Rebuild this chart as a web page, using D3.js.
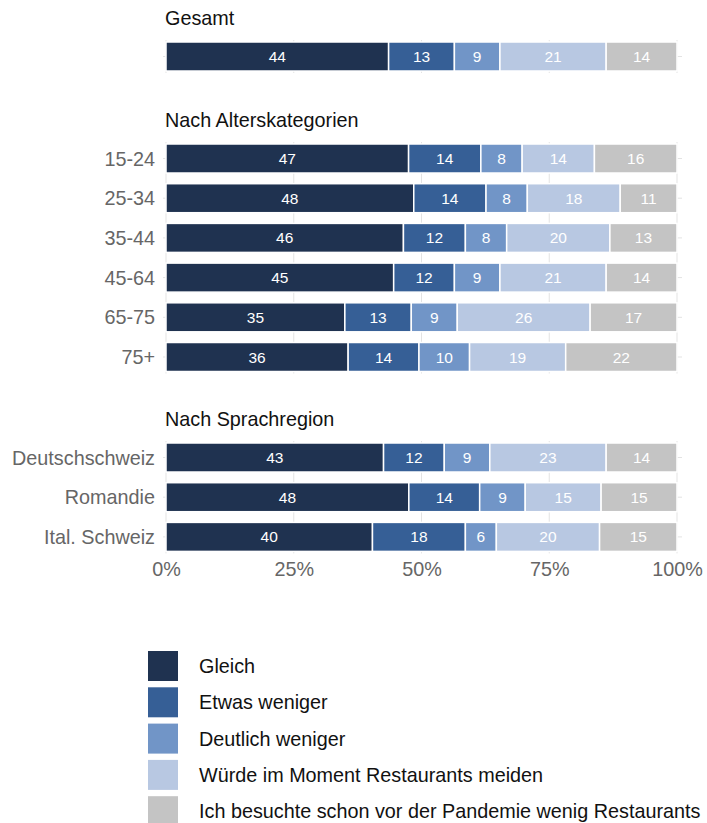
<!DOCTYPE html>
<html>
<head>
<meta charset="utf-8">
<script src="https://cdn.jsdelivr.net/npm/d3@7"></script>
<style>
  body { margin: 0; background: #fff; }
  text { font-family: "Liberation Sans", Arial, sans-serif; }
</style>
</head>
<body>
<script>
// answer categories (stack order)
var categories = ['Gleich', 'Etwas weniger', 'Deutlich weniger',
  'Würde im Moment Restaurants meiden',
  'Ich besuchte schon vor der Pandemie wenig Restaurants'];
var colors = ['#1f3250', '#365f96', '#7195c7', '#b8c8e2', '#c4c4c4'];

// rows and the panel each one belongs to
var rowLabels = ['Gesamt', '15-24', '25-34', '35-44', '45-64', '65-75', '75+',
  'Deutschschweiz', 'Romandie', 'Ital. Schweiz'];
var rowPanel = ['Gesamt', 'Nach Alterskategorien', 'Nach Alterskategorien', 'Nach Alterskategorien',
  'Nach Alterskategorien', 'Nach Alterskategorien', 'Nach Alterskategorien',
  'Nach Sprachregion', 'Nach Sprachregion', 'Nach Sprachregion'];

// percentages per category
var gleich   = [44, 47, 48, 46, 45, 35, 36, 43, 48, 40];
var etwas    = [13, 14, 14, 12, 12, 13, 14, 12, 14, 18];
var deutlich = [ 9,  8,  8,  8,  9,  9, 10,  9,  9,  6];
var meiden   = [21, 14, 18, 20, 21, 26, 19, 23, 15, 20];
var wenig    = [14, 16, 11, 13, 14, 17, 22, 14, 15, 15];

var xTicks = [0, 0.25, 0.5, 0.75, 1];

var series = [gleich, etwas, deutlich, meiden, wenig];
var rows = rowLabels.map(function(name, i) {
  var r = { name: name, panel: rowPanel[i] };
  categories.forEach(function(c, j) { r[c] = series[j][i]; });
  return r;
});

var svg = d3.select('body').append('svg')
  .attr('width', 707)
  .attr('height', 823);

var x = d3.scaleLinear().domain([0, 1]).range([166, 677]);

var stack = d3.stack().keys(categories).offset(d3.stackOffsetExpand);

// panel layout
var panels = [
  { name: 'Gesamt', top: 42, showLabels: false },
  { name: 'Nach Alterskategorien', top: 144, showLabels: true },
  { name: 'Nach Sprachregion', top: 443, showLabels: true }
];
var step = 39.7, barH = 29;
var gap = step - barH;
var bigFont = 19.8;

panels.forEach(function(p) {
  var pr = rows.filter(function(r) { return r.panel === p.name; });
  var n = pr.length;
  var y = d3.scaleBand()
    .domain(pr.map(function(r) { return r.name; }))
    .range([p.top - gap / 2, p.top - gap / 2 + n * step])
    .paddingInner(gap / step)
    .paddingOuter(gap / step / 2);
  var bottom = p.top + n * step - gap;

  var g = svg.append('g');

  // grid
  g.selectAll('.vgrid').data(xTicks).enter().append('line')
    .attr('x1', function(d) { return x(d); })
    .attr('x2', function(d) { return x(d); })
    .attr('y1', p.top - 2)
    .attr('y2', bottom + 2)
    .attr('stroke', '#e3e3e3')
    .attr('stroke-width', 1);
  g.selectAll('.hgrid').data(pr).enter().append('line')
    .attr('x1', x(0) - 3)
    .attr('x2', x(1) + 5)
    .attr('y1', function(d) { return y(d.name) + y.bandwidth() / 2; })
    .attr('y2', function(d) { return y(d.name) + y.bandwidth() / 2; })
    .attr('stroke', '#e3e3e3')
    .attr('stroke-width', 1);

  // panel title
  svg.append('text')
    .attr('x', 165)
    .attr('y', p.top - 17)
    .attr('font-size', bigFont)
    .attr('fill', '#111')
    .text(p.name);

  var stacked = stack(pr);
  stacked.forEach(function(s, j) {
    var seg = g.selectAll('.seg' + j).data(s).enter();
    seg.append('rect')
      .attr('x', function(d) { return x(d[0]); })
      .attr('width', function(d) { return x(d[1]) - x(d[0]); })
      .attr('y', function(d) { return y(d.data.name); })
      .attr('height', y.bandwidth())
      .attr('fill', colors[j])
      .attr('stroke', '#fff')
      .attr('stroke-width', 1.5);
    seg.append('text')
      .attr('x', function(d) { return (x(d[0]) + x(d[1])) / 2; })
      .attr('y', function(d) { return y(d.data.name) + y.bandwidth() / 2; })
      .attr('dy', '0.36em')
      .attr('text-anchor', 'middle')
      .attr('font-size', 15.5)
      .attr('fill', '#fff')
      .text(function(d) { return d.data[categories[j]]; });
  });

  if (p.showLabels) {
    g.selectAll('.rowlab').data(pr).enter().append('text')
      .attr('x', 155)
      .attr('y', function(d) { return y(d.name) + y.bandwidth() / 2; })
      .attr('dy', '0.36em')
      .attr('text-anchor', 'end')
      .attr('font-size', bigFont)
      .attr('fill', '#666')
      .text(function(d) { return d.name; });
  }
});

// x axis
var axis = svg.append('g')
  .attr('transform', 'translate(0,558)')
  .call(d3.axisBottom(x).tickValues(xTicks).tickSize(0).tickPadding(4)
    .tickFormat(d3.format('.0%')));
axis.select('.domain').remove();
axis.selectAll('text')
  .attr('font-size', bigFont)
  .attr('fill', '#666')
  .style('font-family', '"Liberation Sans", Arial, sans-serif');

// legend
var legend = svg.selectAll('.legend').data(categories).enter().append('g')
  .attr('transform', function(d, i) { return 'translate(148,' + (651 + i * 36.3) + ')'; });
legend.append('rect')
  .attr('width', 30)
  .attr('height', 30)
  .attr('fill', function(d, i) { return colors[i]; });
legend.append('text')
  .attr('x', 51)
  .attr('y', 15)
  .attr('dy', '0.36em')
  .attr('font-size', bigFont)
  .attr('fill', '#111')
  .text(function(d) { return d; });
</script>
</body>
</html>
